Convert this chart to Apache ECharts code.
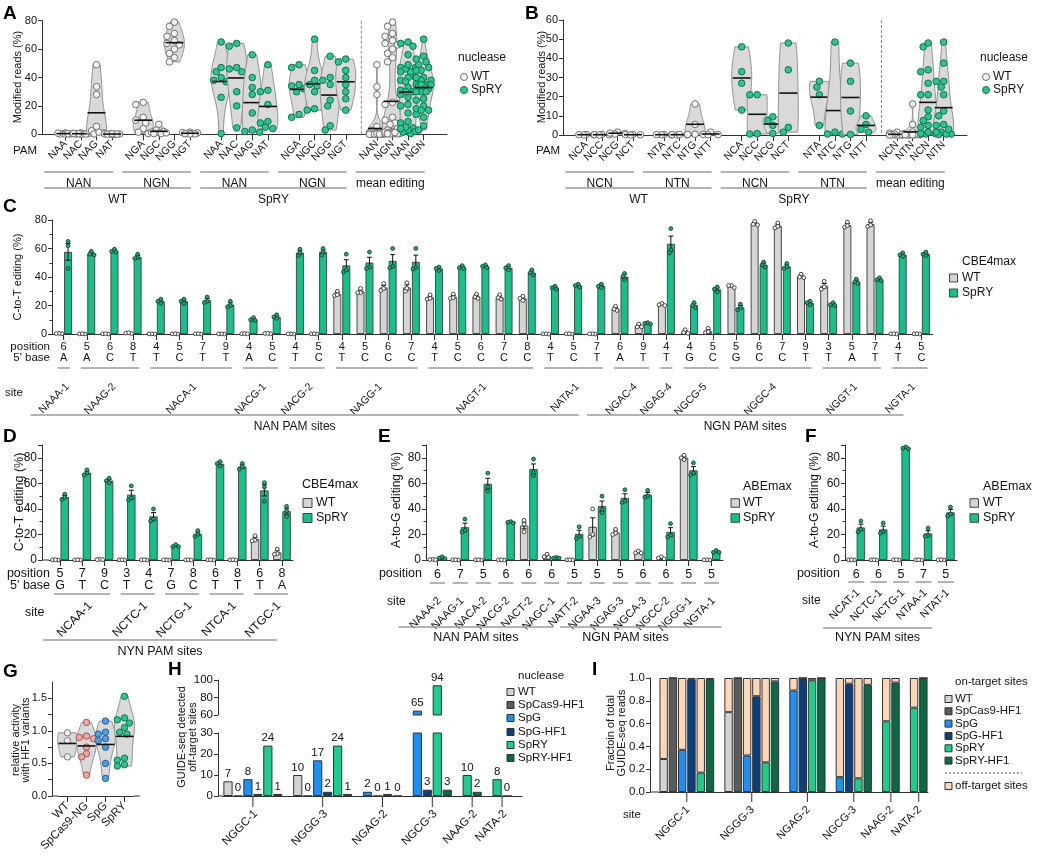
<!DOCTYPE html>
<html>
<head>
<meta charset="utf-8">
<title>SpRY editing panels</title>
<script src="https://cdn.jsdelivr.net/npm/echarts@6.0.0/dist/echarts.min.js"></script>
<style>
html,body{margin:0;padding:0;background:#ffffff;}
#chart{width:1040px;height:859px;}
</style>
</head>
<body>
<div id="chart"></div>
<script>
// ======================= DATA =======================
// Panel A : modified reads (%) per PAM, WT vs SpRY
const aPam = ['NAA','NAC','NAG','NAT','NGA','NGC','NGG','NGT'];
const aMeanPam = ['NAN','NGN'];
const aWT = [
  [0.5,1.0,0.3,0.2,0.8,0.1,0.4,0.6],
  [0.5,1.0,0.2,0.3,0.1,0.4,0.2,0.6],
  [49,33.5,28,5.5,2.5,1.0,0.3,1.5],
  [0.2,0.1,0.3,0.0,0.2,0.1,0.4,0.1],
  [21,22.5,12,10,8,4,1.5,0.5],
  [7,3,2,1.5,1,0.5,0.5,1],
  [79,76,71,69,66,64,63,60,57,54,51],
  [1.5,0.5,1,0.3,0.8,0.2,1.2,0.4]
];
const aSpRY = [
  [65,47,44,40,38,37,26,0.5],
  [64,62,47,46,44,30,20,4.5],
  [56,40,33,28,15,3,2,1.5],
  [49,31,30,21,9,8,5,4],
  [49,47,35,32,30,14,12,34],
  [67,45,38,35,34,30,18,17],
  [55,40,38,35,24,20,6,3],
  [53,51,45,40,35,30,25,17]
];
// Panel B
const bPam = ['NCA','NCC','NCG','NCT','NTA','NTC','NTG','NTT'];
const bMeanPam = ['NCN','NTN'];
const bWT = [
  [0.1,0.3,0.0,0.2],
  [0.2,0.1,0.3,0.0],
  [1.5,0.5,1.0,0.8],
  [0.2,0.1,0.3,0.0],
  [0.1,0.2,0.1,0.2],
  [0.1,0.2,0.0,0.3],
  [16.2,5.5,0.4,0.3],
  [1.5,0.3,0.2,0.1]
];
const bSpRY = [
  [46,33,27,13],
  [21,21,0.5,0.7],
  [9.5,7.5,5,0.8],
  [48,34,4,1.5],
  [28,25,21,5],
  [48.5,1.5,0.5,0.5],
  [37.5,28,12.5,0.3],
  [10,5.5,3,1.5]
];
// Panel C : CBE4max C-to-T editing (%), replicates
const cSites = ['NAAA-1','NAAG-2','NACA-1','NACG-1','NACG-2','NAGG-1','NAGT-1','NATA-1','NGAC-4','NGAG-4','NGCG-5','NGGC-4','NGGT-1','NGTA-1'];
const cSiteN = [1,3,4,2,2,4,5,3,2,1,2,4,3,2];
const cPamLabels = ['NAN PAM sites','NGN PAM sites'];
const cPamN = [8,6];
const cPos = [6,5,6,8,4,5,7,9,4,5,4,5,4,5,6,7,4,5,6,7,8,4,5,7,6,9,4,4,5,5,6,7,9,3,5,7,4,5];
const cBase = ['A','A','C','T','T','C','T','T','A','C','T','C','T','C','C','C','T','C','C','C','C','T','C','T','A','T','T','G','C','G','C','C','T','T','A','T','T','C'];
const cWT = [
  [0.2,0.5,0.3],[0.1,0.0,0.2],[0.0,0.1,0.2],[0.6,0.3,0.9],
  [0.0,0.1,0.1],[0.0,0.1,0.2],[0.1,0.0,0.2],[0.0,0.1,0.1],
  [0.2,0.3,0.1],[0.4,0.2,0.5],
  [0.0,0.1,0.1],[0.1,0.0,0.2],
  [30,27,27.5],[32,29,29],[35.5,30.5,32],[36,30,32],
  [27.5,24.5,25],[28,25,25.5],[28,25,26],[27.5,24.5,25.5],[26.5,23.5,25],
  [0.0,0.1,0.2],[0.1,0.0,0.2],[0.0,0.2,0.1],
  [19.5,16.5,17.5],[7,5,5],
  [21.5,20,20.5],
  [3,0.5,1],[4,1,1.5],
  [34,32.5,34],[79,76.5,77],[78,74.5,75.5],[42,39.5,40],
  [37,31.5,33],[78.5,75,76],[79.5,75.5,76.5],
  [0.0,0.1,0.2],[0.1,0.0,0.2]
];
const cSpRY = [
  [65,62,46],[58,56,55.5],[59.5,58,57.5],[56,53.5,53],
  [24.5,23,21.5],[24.5,23,21.5],[26,23,22],[23,20,19],
  [11.5,10,9.5],[13.5,12,11],
  [59.5,57,55],[60,57.5,55.5],
  [56,45,43.5],[57.5,47,46],[60,47.5,46.5],[60,46.5,45.5],
  [47,46,44.5],[48,46.5,46],[48.5,47.5,46.5],[48,46.5,45],[45,43,41.5],
  [33.5,32.5,31.5],[35,34,33],[35,33.5,32.5],
  [42.5,40.5,38],[8,7.5,7],
  [74,59,57],
  [22,20,18.5],[33,31.5,29.5],
  [21,18.5,17],[50.5,48.5,47],[49.5,47,46],[23,22,20.5],
  [22,20.5,20],[38.5,36.5,35.5],[39.5,38,37.5],
  [57,55.5,54.5],[57.5,56,55]
];
// Panel D : CBE4max, NYN PAM sites
const dSites = ['NCAA-1','NCTC-1','NCTG-1','NTCA-1','NTGC-1'];
const dSiteN = [3,2,2,2,2];
const dPamLabels = ['NYN PAM sites'];
const dPamN = [5];
const dPos = [5,7,9,3,4,7,8,6,8,6,8];
const dBase = ['G','T','C','T','C','G','C','T','T','T','A'];
const dWT = [[0,0.1,0.2],[0.1,0,0.2],[0.5,0.2,0.3],[0,0.1,0.2],[0.1,0,0.2],[0,0.1,0.1],[0.1,0.2,0],[0,0.1,0.2],[0.1,0,0.2],[19,15.5,15],[8.5,5,4.5]];
const dSpRY = [[51.5,49,47.5],[70.5,68,66.5],[64,62,60.5],[58,48.5,47],[40,32,30.5],[12,10.5,10.5],[23,20,18.5],[77,75.5,73.5],[75.5,73,71],[60.5,57,46],[42,38.5,34]];
// Panel E : ABEmax A-to-G editing (%)
const eSites = ['NAAA-2','NAAG-1','NACA-2','NACG-2','NACT-2','NAGC-1','NATT-2','NGAA-3','NGAG-3','NGCA-3','NGCC-2','NGGG-1','NGTA-1'];
const ePos = [6,7,5,6,6,6,5,5,5,6,6,5,5];
const ePamLabels = ['NAN PAM sites','NGN PAM sites'];
const ePamN = [7,6];
const eWT = [[0.5,0.2,0.3],[0.1,0,0.2],[0,0.1,0.2],[0.1,0,0.2],[31,28,22],[4.5,2.5,2],[0,0.1,0.2],[40,20,18],[24,21,20],[7,5.5,5.5],[2.5,1.5,1],[82,80,78.5],[0,0.2,0.1]];
const eSpRY = [[2.5,1.5,1],[32,23,22],[68,57,54],[30,29.5,29],[79,68.5,66],[2,1.5,1.5],[26,18.5,17],[50,39.5,37],[55,46,45],[54.5,50,49],[28.5,19.5,18],[76,68,66.5],[7.5,6,6]];
// Panel F : ABEmax, NYN PAM sites
const fSites = ['NCAT-1','NCTC-1','NCTG-1','NTAA-1','NTAT-1'];
const fPos = [6,6,5,7,5];
const fPamLabels = ['NYN PAM sites'];
const fPamN = [5];
const fWT = [[0,0.1,0.2],[0,0.1,0.2],[0,0.1,0.2],[0,0.1,0.2],[0,0.1,0.2]];
const fSpRY = [[30.5,24,22],[29,22,21],[88.5,87.5,87],[25,19,18.5],[41.5,36,34.5]];
// Panel G : relative activity with HF1 variants
const gNames = ['WT','SpCas9-NG','SpG','SpRY'];
const gVals = [
  [0.97,0.85,0.60],
  [1.13,0.92,0.90,0.88,0.75,0.65,0.60,0.32],
  [1.15,0.98,0.95,0.88,0.85,0.75,0.50,0.27],
  [1.53,1.20,1.17,1.12,1.05,0.98,0.95,0.58,0.55,0.48,0.46]
];
// Panels H & I : GUIDE-seq
const offSites = ['NGGC-1','NGGG-3','NGAG-2','NGCG-3','NAAG-2','NATA-2'];
const nucNames = ['WT','SpCas9-HF1','SpG','SpG-HF1','SpRY','SpRY-HF1'];
const hWT      = [7,10,null,null,null,null];
const hHF1     = [0,0,null,null,null,null];
const hSpG     = [8,17,2,65,null,null];
const hSpGHF1  = [1,2,0,3,null,null];
const hSpRY    = [24,24,1,94,10,8];
const hSpRYHF1 = [1,1,0,3,2,0];
const iWT      = [0.29,0.70,null,null,null,null];
const iHF1     = [1.0,1.0,null,null,null,null];
const iSpG     = [0.37,0.32,0.89,0.13,null,null];
const iSpGHF1  = [0.99,0.84,1.0,0.95,null,null];
const iSpRY    = [0.17,0.26,0.98,0.12,0.62,0.74];
const iSpRYHF1 = [0.99,0.97,1.0,0.94,0.96,1.0];

// ======================= STYLE =======================
const FONT = "'Liberation Sans', Arial, Helvetica, sans-serif";
const AX = '#333333';
const TXT = '#141414';
const GLINE = '#9b9b9b';
const COL = {
  wtBar: '#d5d5d5', spryBar: '#14c08b', edge: '#4a4a4a',
  wtPt: {fill: '#f2f2f2', stroke: '#727272'},
  spPt: {fill: '#2cc490', stroke: '#16714f'},
  wtDot: {fill: '#ffffff', stroke: '#333333'},
  spDot: {fill: '#13ad7c', stroke: '#1b3d31'},
  vFill: '#d9d9d9', vStroke: '#8f8f8f'
};
const G_PT = [
  {fill: '#eeeeee', stroke: '#7a7a7a'},
  {fill: '#f2a7a2', stroke: '#9c5753'},
  {fill: '#4f9fe6', stroke: '#245c94'},
  {fill: '#2cc490', stroke: '#16714f'}
];
const NUC_COLORS = ['#d3d3d3','#5b5b5b','#1f8ff2','#0b3e7a','#20cc8d','#0b6a44'];
const OFF_COLOR = '#fdd6b6';

// ======================= HELPERS =======================
const mean = a => a.reduce((s, v) => s + v, 0) / a.length;
const sem = a => { const m = mean(a); return Math.sqrt(a.reduce((s, v) => s + (v - m) * (v - m), 0) / (a.length - 1) / a.length); };

function swarm(ys, r, maxOff, sep) {
  sep = sep || 2 * r * 0.9;
  const step = r * 0.75;
  const order = ys.map((_, i) => i).sort((a, b) => ys[a] - ys[b]);
  const placed = []; const off = ys.map(() => 0);
  const cands = [0];
  for (let k = 1; k * step <= maxOff + 1e-6; k++) cands.push(-k * step, k * step);
  for (const i of order) {
    let best = 0, bestD = -1;
    for (const c of cands) {
      let dmin = Infinity;
      for (const p of placed) { const d = Math.hypot(c - p[0], ys[i] - p[1]); if (d < dmin) dmin = d; }
      if (dmin >= sep) { best = c; break; }
      if (dmin > bestD) { bestD = dmin; best = c; }
    }
    off[i] = best; placed.push([best, ys[i]]);
  }
  return off;
}

const option = {animation: false, backgroundColor: '#ffffff', textStyle: {fontFamily: FONT},
  tooltip: {show: false}, grid: [], xAxis: [], yAxis: [], series: []};

function cart(grid, x, y) {
  const gi = option.grid.length;
  option.grid.push(Object.assign({containLabel: false, outerBoundsMode: 'none', show: false}, grid));
  option.xAxis.push(Object.assign({gridIndex: gi}, x));
  option.yAxis.push(Object.assign({gridIndex: gi}, y));
  return gi;
}
function valAxis(o) {
  return {
    type: 'value', min: o.min, max: o.max, interval: o.interval, offset: o.offset || 0,
    axisLine: {show: true, onZero: false, lineStyle: {color: AX, width: 1}},
    axisTick: {show: true, inside: false, length: 4, lineStyle: {color: AX, width: 1}},
    minorTick: {show: !!o.minor, splitNumber: 2, length: 2.5, lineStyle: {color: AX, width: 1}},
    splitLine: {show: false}, minorSplitLine: {show: false},
    axisLabel: {show: true, fontSize: o.size || 11, color: TXT, fontFamily: FONT, margin: 5,
      showMinLabel: true, showMaxLabel: o.showMax !== false, formatter: o.fmt || (v => String(v))}
  };
}
function catAxis(cats, o) {
  const real = (i, v) => !String(v).startsWith('_');
  const lab = {show: !!o.labels, interval: real, rotate: o.rotate || 0, margin: o.margin || 8,
    fontSize: o.size || 11, color: TXT, fontFamily: FONT};
  if (o.lh) lab.lineHeight = o.lh;
  if (o.fmt) lab.formatter = o.fmt;
  return {
    type: 'category', data: cats, boundaryGap: true, show: o.show !== false,
    axisLine: {show: o.line !== false, onZero: false, lineStyle: {color: AX, width: 1}},
    axisTick: {show: !!o.ticks, alignWithLabel: true, length: o.tickLen || 6, interval: real, lineStyle: {color: AX, width: 1}},
    axisLabel: lab, splitLine: {show: false}
  };
}

function violinSeries(gi, groups, st) {
  return {
    type: 'custom', name: st.name, xAxisIndex: gi, yAxisIndex: gi, z: 3, silent: true,
    dimensions: ['slot', 'mean', 'k'],
    data: groups.map((g, k) => [g.slot, mean(g.values), k]),
    encode: {x: 0, y: 1},
    renderItem: function (params, api) {
      const g = groups[api.value(2)];
      const vals = g.values;
      const cxp = api.coord([g.slot, 0])[0];
      const lo = Math.min.apply(null, vals), hi = Math.max.apply(null, vals);
      const m = mean(vals);
      const sd = Math.sqrt(vals.reduce((s, v) => s + (v - m) * (v - m), 0) / Math.max(1, vals.length - 1));
      const h = Math.max(1.06 * sd * Math.pow(vals.length, -0.2), st.minBw);
      const N = 48, prof = [];
      for (let i = 0; i <= N; i++) {
        const y = lo + (hi - lo) * i / N;
        let d = 0; for (const v of vals) { const z = (y - v) / h; d += Math.exp(-0.5 * z * z); }
        prof.push([y, d]);
      }
      const dmax = Math.max.apply(null, prof.map(p => p[1]));
      const Lp = [], Rp = [];
      prof.forEach(p => { const py = api.coord([g.slot, p[0]])[1]; const w = st.halfW * p[1] / dmax; Lp.push([cxp - w, py]); Rp.push([cxp + w, py]); });
      const children = [{type: 'polygon', shape: {points: Lp.concat(Rp.reverse())}, style: {fill: COL.vFill, stroke: COL.vStroke, lineWidth: 1}}];
      const ys = vals.map(v => api.coord([g.slot, v])[1]);
      const offs = swarm(ys, st.r, st.maxOff);
      ys.forEach((y, i) => children.push({type: 'circle', shape: {cx: cxp + offs[i], cy: y, r: st.r}, style: {fill: g.pt.fill, stroke: g.pt.stroke, lineWidth: 1}}));
      const my = api.coord([g.slot, m])[1];
      children.push({type: 'line', shape: {x1: cxp - st.meanHalf, y1: my, x2: cxp + st.meanHalf, y2: my}, style: {stroke: '#111', lineWidth: 1.6}});
      return {type: 'group', children: children};
    }
  };
}

function violinPanel(p) {
  const cats = [], groups = [], blocks = []; let sp = 0;
  const spacer = () => cats.push('_' + (sp++));
  const ptOf = k => k === 'WT' ? COL.wtPt : COL.spPt;
  const block = (key, names, vals, kinds) => {
    const first = cats.length;
    names.forEach((nm, j) => { groups.push({slot: cats.length, values: vals[j], pt: ptOf(kinds[j])}); cats.push(key + j + ':' + nm); });
    blocks.push({first: first, last: cats.length - 1});
    spacer();
  };
  const W4 = ['WT','WT','WT','WT'], S4 = ['SpRY','SpRY','SpRY','SpRY'];
  spacer();
  block('w', p.pam.slice(0, 4), p.wt.slice(0, 4), W4);
  block('x', p.pam.slice(4), p.wt.slice(4), W4);
  block('s', p.pam.slice(0, 4), p.spry.slice(0, 4), S4);
  block('t', p.pam.slice(4), p.spry.slice(4), S4);
  const dashSlot = cats.length - 1;
  const pooled = [p.wt.slice(0, 4).flat(), p.wt.slice(4).flat(), p.spry.slice(0, 4).flat(), p.spry.slice(4).flat()];
  block('m', [p.meanPam[0], p.meanPam[1], p.meanPam[0], p.meanPam[1]], pooled, ['WT','WT','SpRY','SpRY']);
  const gi = cart(p.grid,
    catAxis(cats, {ticks: true, labels: true, rotate: 45, margin: 8, size: 10.5, tickLen: 6, fmt: v => v.startsWith('_') ? '' : v.split(':')[1]}),
    valAxis({min: 0, max: p.max, interval: p.interval}));
  option.series.push(violinSeries(gi, groups, {name: p.name, halfW: 10, r: 3.3, maxOff: 8, meanHalf: 9, minBw: p.minBw}));
  return {gi: gi, blocks: blocks, dashSlot: dashSlot, max: p.max};
}

function barDotsSeries(gi, wt, spry, st) {
  const data = [];
  wt.forEach((v, i) => { data.push([i, mean(v), 0]); data.push([i, mean(spry[i]), 1]); });
  return {
    type: 'custom', name: 'replicates', xAxisIndex: gi, yAxisIndex: gi, z: 6, silent: true,
    dimensions: ['cat', 'mean', 'k'], data: data, encode: {x: 0, y: 1},
    renderItem: function (params, api) {
      const i = api.value(0), k = api.value(2);
      const vals = (k ? spry : wt)[i];
      const x = api.coord([i, 0])[0] + (k ? st.off : -st.off);
      const m = mean(vals), e = sem(vals);
      const ch = [];
      const y1 = api.coord([i, m + e])[1], y2 = api.coord([i, Math.max(0, m - e)])[1];
      if (y2 - y1 > 1.5) {
        ch.push({type: 'line', shape: {x1: x, y1: y1, x2: x, y2: y2}, style: {stroke: '#111', lineWidth: 1}});
        ch.push({type: 'line', shape: {x1: x - 2.5, y1: y1, x2: x + 2.5, y2: y1}, style: {stroke: '#111', lineWidth: 1}});
        ch.push({type: 'line', shape: {x1: x - 2.5, y1: y2, x2: x + 2.5, y2: y2}, style: {stroke: '#111', lineWidth: 1}});
      }
      const ys = vals.map(v => api.coord([i, v])[1]);
      const offs = swarm(ys, st.r, st.maxOff, st.sep);
      const ps = k ? COL.spDot : COL.wtDot;
      ys.forEach((y, j) => ch.push({type: 'circle', shape: {cx: x + offs[j], cy: y, r: st.r}, style: {fill: ps.fill, stroke: ps.stroke, lineWidth: 0.9}}));
      return {type: 'group', children: ch};
    }
  };
}

function barPanel(p) {
  const cats = p.wt.map((_, i) => 'c' + i);
  const gi = cart(p.grid,
    catAxis(cats, {ticks: true, labels: true, margin: p.margin, size: p.labelSize, lh: p.lh, tickLen: 6, fmt: (v, i) => p.fmt(i)}),
    valAxis({min: 0, max: p.max, interval: 20, minor: true, offset: p.yOffset || 0, showMax: p.max === 80, size: p.tickSize}));
  const bar = (name, reps, color) => ({type: 'bar', name: name, xAxisIndex: gi, yAxisIndex: gi, silent: true, z: 2,
    barWidth: p.bw, barGap: p.gap, data: reps.map(mean),
    itemStyle: {color: color, borderColor: COL.edge, borderWidth: 1}});
  option.series.push(bar('WT', p.wt, COL.wtBar), bar('SpRY', p.spry, COL.spryBar));
  const off = (p.bw + p.bw * parseFloat(p.gap) / 100) / 2;
  option.series.push(barDotsSeries(gi, p.wt, p.spry, {off: off, r: 1.9, maxOff: 4, sep: 3}));
  return gi;
}

function slotBuild(vals, trailing) {
  const cats = [], nuc = [], site = [], groups = [];
  offSites.forEach((s, si) => {
    const first = cats.length;
    vals.forEach((arr, ni) => { if (arr[si] != null) { cats.push('s' + si + 'n' + ni); nuc.push(ni); site.push(si); } });
    groups.push({first: first, last: cats.length - 1, label: s});
    if (si < offSites.length - 1 || trailing) { cats.push('_' + si); nuc.push(-1); site.push(-1); }
  });
  return {cats: cats, nuc: nuc, site: site, groups: groups};
}

// ======================= BUILD PANELS =======================
const pA = violinPanel({name: 'A', grid: {left: 42, top: 20.7, width: 405, height: 113.6}, max: 80, interval: 20, pam: aPam, meanPam: aMeanPam, wt: aWT, spry: aSpRY, minBw: 2.2});
const pB = violinPanel({name: 'B', grid: {left: 563, top: 20, width: 404, height: 115}, max: 60, interval: 10, pam: bPam, meanPam: bMeanPam, wt: bWT, spry: bSpRY, minBw: 1.8});

const giC = barPanel({grid: {left: 52, top: 220, width: 881, height: 114}, max: 80, wt: cWT, spry: cSpRY,
  fmt: i => cPos[i] + '\n' + cBase[i], labelSize: 11, lh: 10.5, margin: 8, bw: 8, gap: '12%', tickSize: 11});
const giD = barPanel({grid: {left: 49, top: 445, width: 244, height: 115}, yOffset: 7, max: 90, wt: dWT, spry: dSpRY,
  fmt: i => dPos[i] + '\n' + dBase[i], labelSize: 12.5, lh: 12, margin: 8, bw: 8.5, gap: '10%', tickSize: 12});
const giE = barPanel({grid: {left: 426, top: 445, width: 297, height: 115}, max: 90, wt: eWT, spry: eSpRY,
  fmt: i => String(ePos[i]), labelSize: 12.5, margin: 8, bw: 8.5, gap: '10%', tickSize: 12});
const giF = barPanel({grid: {left: 845, top: 445, width: 112, height: 115}, max: 90, wt: fWT, spry: fSpRY,
  fmt: i => String(fPos[i]), labelSize: 12.5, margin: 8, bw: 8.5, gap: '10%', tickSize: 12});

// G
const giG = cart({left: 58, top: 682, width: 76, height: 114},
  catAxis(gNames, {ticks: true, labels: true, rotate: 45, margin: 8, size: 11.5, tickLen: 6}),
  valAxis({min: 0, max: 1.75, interval: 0.25, offset: 6, size: 11, showMax: false, fmt: v => (Math.abs(v / 0.5 - Math.round(v / 0.5)) < 1e-6 ? v.toFixed(1) : '')}));
option.series.push(violinSeries(giG, gVals.map((v, i) => ({slot: i, values: v, pt: G_PT[i]})), {name: 'G', halfW: 10, r: 3.2, maxOff: 8, meanHalf: 9, minBw: 0.06}));

// H (broken axis)
const hVals = [hWT, hHF1, hSpG, hSpGHF1, hSpRY, hSpRYHF1];
const hS = slotBuild(hVals, true);
const giHb = cart({left: 223, top: 733, width: 299, height: 63}, catAxis(hS.cats, {ticks: false, labels: false}),
  valAxis({min: 0, max: 30, interval: 10, offset: 5, size: 11.5}));
const giHt = cart({left: 223, top: 680, width: 299, height: 35}, catAxis(hS.cats, {ticks: false, labels: false, line: false, show: false}),
  valAxis({min: 60, max: 100, interval: 20, offset: 5, size: 11.5}));
nucNames.forEach((nm, ni) => {
  const vals = hS.cats.map((_, k) => hS.nuc[k] === ni ? hVals[ni][hS.site[k]] : null);
  const lbl = {show: true, position: 'top', distance: 1.5, fontSize: 11.5, color: TXT, fontFamily: FONT};
  option.series.push({type: 'bar', name: nm, xAxisIndex: giHb, yAxisIndex: giHb, stack: 'hb', barWidth: 9.2, clip: true, silent: true, z: 2,
    itemStyle: {color: NUC_COLORS[ni], borderColor: '#333', borderWidth: 1}, label: lbl,
    data: vals.map(v => v == null ? null : (v > 30 ? {value: v, label: {show: false}} : v))});
  option.series.push({type: 'bar', name: nm, xAxisIndex: giHt, yAxisIndex: giHt, stack: 'ht', barWidth: 9.2, clip: true, silent: true, z: 2,
    itemStyle: {color: NUC_COLORS[ni], borderColor: '#333', borderWidth: 1}, label: lbl,
    data: vals.map(v => (v != null && v > 60) ? v : null)});
});

// I (stacked fractions)
const iVals = [iWT, iHF1, iSpG, iSpGHF1, iSpRY, iSpRYHF1];
const iS = slotBuild(iVals, false);
const giI = cart({left: 659, top: 678, width: 269, height: 114}, catAxis(iS.cats, {ticks: false, labels: false}),
  valAxis({min: 0, max: 1, interval: 0.2, offset: 9, size: 11.5, fmt: v => v.toFixed(1)}));
nucNames.forEach((nm, ni) => {
  option.series.push({type: 'bar', name: nm, xAxisIndex: giI, yAxisIndex: giI, stack: 'iz', barWidth: 8.4, silent: true, z: 2,
    itemStyle: {color: NUC_COLORS[ni], borderColor: '#333', borderWidth: 1},
    data: iS.cats.map((_, k) => iS.nuc[k] === ni ? iVals[ni][iS.site[k]] : null)});
});
option.series.push({type: 'bar', name: 'off-target sites', xAxisIndex: giI, yAxisIndex: giI, stack: 'iz', barWidth: 8.4, silent: true, z: 2,
  itemStyle: {color: OFF_COLOR, borderColor: '#333', borderWidth: 1},
  data: iS.cats.map((_, k) => iS.nuc[k] >= 0 ? +(1 - iVals[iS.nuc[k]][iS.site[k]]).toFixed(3) : null)});

const chart = echarts.init(document.getElementById('chart'), null, {renderer: 'canvas', width: 1040, height: 859});
chart.setOption(option);

// ======================= ANNOTATIONS =======================
const gfx = [];
const P = (gi, x, y) => chart.convertToPixel({gridIndex: gi}, [x, y]);
const cx = (gi, i) => P(gi, i, 0)[0];
function T(x, y, text, o) {
  o = o || {};
  const st = {text: text, fill: o.color || TXT, fontSize: o.size || 11, fontFamily: FONT, fontWeight: o.bold ? 'bold' : 'normal',
    align: o.align || 'center', verticalAlign: o.va || 'middle'};
  if (o.lh) st.lineHeight = o.lh;
  gfx.push({type: 'text', x: x, y: y, rotation: o.rot || 0, silent: true, z: 100, style: st});
}
function L(x1, y1, x2, y2, o) {
  o = o || {};
  const st = {stroke: o.color || GLINE, lineWidth: o.w || 1.5};
  if (o.dash) st.lineDash = o.dash;
  gfx.push({type: 'line', silent: true, z: 100, shape: {x1: x1, y1: y1, x2: x2, y2: y2}, style: st});
}
function Rb(x, y, w, h, fill, stroke) {
  gfx.push({type: 'rect', silent: true, z: 100, shape: {x: x, y: y, width: w, height: h}, style: {fill: fill, stroke: stroke || '#444', lineWidth: 1}});
}
function Cb(x, y, r, st) {
  gfx.push({type: 'circle', silent: true, z: 100, shape: {cx: x, cy: y, r: r}, style: {fill: st.fill, stroke: st.stroke, lineWidth: 1}});
}

// panel letters
[['A', 3, 14], ['B', 525, 14], ['C', 3, 207], ['D', 3, 437], ['E', 378, 437], ['F', 805, 437], ['G', 3, 672], ['H', 168, 670], ['I', 592, 670]]
  .forEach(a => T(a[1], a[2], a[0], {align: 'left', size: 19, bold: true, color: '#000'}));

// A & B annotations
function annotViolin(pv, row1, yLab, yLabX, pamX, legX) {
  const c = i => cx(pv.gi, i);
  const b = pv.blocks;
  row1.forEach((lab, bi) => { const x1 = c(b[bi].first) - 21, x2 = c(b[bi].last) + 1; L(x1, 172, x2, 172); T((x1 + x2) / 2, 183.5, lab, {size: 12}); });
  [[0, 1, 'WT'], [2, 3, 'SpRY']].forEach(r => { const x1 = c(b[r[0]].first) - 21, x2 = c(b[r[1]].last) + 1; L(x1, 188, x2, 188); T((x1 + x2) / 2, 200, r[2], {size: 12}); });
  const top = P(pv.gi, 0, pv.max)[1], bot = P(pv.gi, 0, 0)[1];
  L(c(pv.dashSlot), top, c(pv.dashSlot), bot, {color: '#888', w: 1, dash: [3, 2]});
  T(yLabX, 77, yLab, {rot: Math.PI / 2, size: 11});
  T(pamX, 151, 'PAM', {align: 'right', size: 11.5});
  T(legX, 58, 'nuclease', {align: 'left', size: 12});
  Cb(legX + 6, 77, 3.5, COL.wtPt); T(legX + 13, 77, 'WT', {align: 'left', size: 12});
  Cb(legX + 6, 90, 3.5, COL.spPt); T(legX + 13, 90, 'SpRY', {align: 'left', size: 12});
}
annotViolin(pA, ['NAN', 'NGN', 'NAN', 'NGN', 'mean editing'], 'Modified reads (%)', 18, 37, 458);
annotViolin(pB, ['NCN', 'NTN', 'NCN', 'NTN', 'mean editing'], 'Modified reads (%)', 542, 560, 980);

// bar-panel annotations
function annotSites(gi, sizes, labels, o) {
  const ranges = []; let k = 0;
  sizes.forEach((n, si) => {
    const x1 = cx(gi, k), x2 = cx(gi, k + n - 1);
    L(x1 - o.ul, o.ulY, x2 + o.ul, o.ulY);
    T((x1 + x2) / 2 + o.dx, o.labY, labels[si], {rot: Math.PI / 4, align: 'right', size: o.size});
    ranges.push({first: k, last: k + n - 1}); k += n;
  });
  return ranges;
}
function annotPam(gi, ranges, counts, labels, o) {
  let s = 0;
  counts.forEach((n, pi) => {
    const sp = o.spec[pi];
    const f = cx(gi, ranges[s].first), l = cx(gi, ranges[s + n - 1].last);
    const x1 = f + sp.a, x2 = l + sp.b;
    L(x1, o.lineY, x2, o.lineY);
    T((x1 + x2) / 2 + (sp.dx || 0), o.labY, labels[pi], {size: o.size});
    s += n;
  });
}
function legendBoxes(x, titleX, titleY, rows, title, size, box) {
  T(titleX, titleY, title, {align: 'left', size: size});
  rows.forEach(r => { Rb(x, r[0] - box / 2, box, box, r[1]); T(r[3], r[0], r[2], {align: 'left', size: size}); });
}

// C
const rC = annotSites(giC, cSiteN, cSites, {ul: 6, ulY: 368, dx: 4, labY: 385, size: 10.5});
annotPam(giC, rC, cPamN, cPamLabels, {lineY: 415, labY: 427, size: 12, spec: [{a: -33, b: -18, dx: -10}, {a: -33, b: -18}]});
T(50, 347, 'position', {align: 'right', size: 11.5}); T(50, 357.5, "5' base", {align: 'right', size: 11.5}); T(5, 393, 'site', {align: 'left', size: 11.5});
T(18, 277, 'C-to-T editing (%)', {rot: Math.PI / 2, size: 11});
legendBoxes(949.5, 962, 262, [[278, COL.wtBar, 'WT', 962], [293, COL.spryBar, 'SpRY', 962]], 'CBE4max', 12, 8);

// D
const rD = annotSites(giD, dSiteN, dSites, {ul: 6, ulY: 594, dx: 8, labY: 604, size: 12});
annotPam(giD, rD, dPamN, dPamLabels, {lineY: 640, labY: 652, size: 12.5, spec: [{a: -17, b: -5}]});
T(50, 574, 'position', {align: 'right', size: 12.5}); T(50, 586, "5' base", {align: 'right', size: 12.5}); T(25, 613, 'site', {align: 'left', size: 12.5});
T(20, 502, 'C-to-T editing (%)', {rot: Math.PI / 2, size: 12.5});
L(42, 560, 49, 560, {color: AX, w: 1});
legendBoxes(303, 302, 485, [[503, COL.wtBar, 'WT', 316], [518, COL.spryBar, 'SpRY', 316]], 'CBE4max', 12.5, 9);

// E
const rE = annotSites(giE, eSites.map(() => 1), eSites, {ul: 7.5, ulY: 583, dx: 2, labY: 599, size: 11});
annotPam(giE, rE, ePamN, ePamLabels, {lineY: 627, labY: 638, size: 12.5, spec: [{a: -39, b: -21}, {a: -37, b: 10, dx: -15.5}]});
T(422, 574, 'position', {align: 'right', size: 12.5}); T(387, 602, 'site', {align: 'left', size: 12});
T(397, 500, 'A-to-G editing (%)', {rot: Math.PI / 2, size: 12});
legendBoxes(731, 743, 487, [[503, COL.wtBar, 'WT', 743], [518, COL.spryBar, 'SpRY', 743]], 'ABEmax', 12.5, 8.5);

// F
const rF = annotSites(giF, fSites.map(() => 1), fSites, {ul: 8, ulY: 582, dx: 2, labY: 591, size: 11});
annotPam(giF, rF, fPamN, fPamLabels, {lineY: 628, labY: 638, size: 12.5, spec: [{a: -33, b: -14}]});
T(840, 574, 'position', {align: 'right', size: 12.5}); T(802, 601, 'site', {align: 'left', size: 12});
T(815, 500, 'A-to-G editing (%)', {rot: Math.PI / 2, size: 12});
legendBoxes(970, 983, 487, [[503, COL.wtBar, 'WT', 983], [518, COL.spryBar, 'SpRY', 983]], 'ABEmax', 12.5, 8.5);

// G
T(21, 740, 'relative activity\nwith HF1 variants', {rot: Math.PI / 2, size: 11, lh: 10.5});
L(52, 796, 58, 796, {color: AX, w: 1}); L(134, 796, 140, 796, {color: AX, w: 1});

// H
function groupTicks(gi, groups, y0, len, dx, labY, size) {
  groups.forEach(g => {
    const x = (cx(gi, g.first) + cx(gi, g.last)) / 2;
    L(x, y0, x, y0 + len, {color: AX, w: 1});
    T(x + dx, labY, g.label, {rot: Math.PI / 4, align: 'right', size: size});
  });
}
groupTicks(giHb, hS.groups, 796, 11, 3, 812, 11.5);
L(218, 796, 223, 796, {color: AX, w: 1});
T(187, 737, 'GUIDE-seq detected\noff-target sites', {rot: Math.PI / 2, size: 11, lh: 11});
T(518, 676, 'nuclease', {align: 'left', size: 11.5});
[692, 705, 718, 732, 745, 758].forEach((y, i) => { Rb(507, y - 3.5, 7, 7, NUC_COLORS[i], '#333'); T(518, y, nucNames[i], {align: 'left', size: 11.5}); });

// I
groupTicks(giI, iS.groups, 792, 10, 1, 808, 11);
L(650, 792, 659, 792, {color: AX, w: 1});
T(623, 815, 'site', {align: 'left', size: 11.5});
T(616, 733, 'Fractoin of total\nGUIDE-seq reads', {rot: Math.PI / 2, size: 11, lh: 11});
T(955, 682, 'on-target sites', {align: 'left', size: 11.5});
[699, 711.3, 723.6, 736, 748.3, 760.6].forEach((y, i) => { Rb(945, y - 3.5, 7, 7, NUC_COLORS[i], '#333'); T(955, y, nucNames[i], {align: 'left', size: 11.5}); });
L(945, 773, 1022, 773, {color: '#555', w: 1, dash: [2, 2]});
Rb(945, 782.5, 7, 7, OFF_COLOR, '#333'); T(955, 786, 'off-target sites', {align: 'left', size: 11.5});

chart.setOption({graphic: {elements: gfx}});
</script>
</body>
</html>
